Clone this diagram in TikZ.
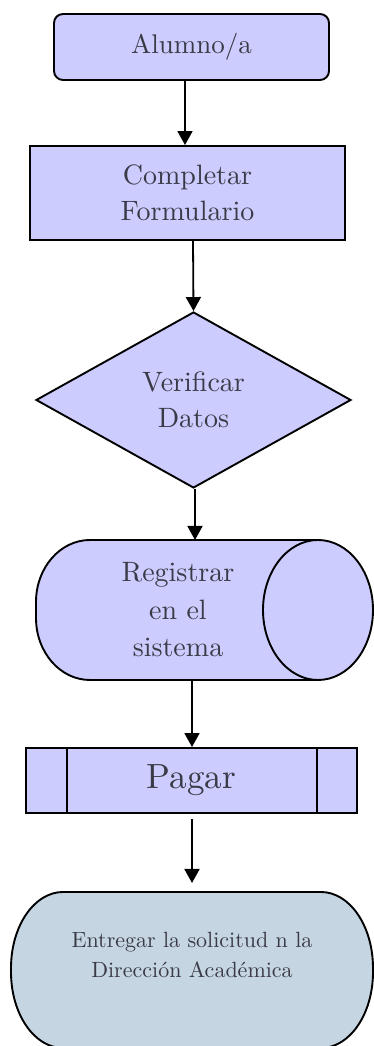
\documentclass[tikz,border=0pt]{standalone}
\usepackage{fontspec}
\setmainfont{lmroman10-regular}[Extension=.otf]
\usetikzlibrary{shapes.geometric,arrows.meta}
\definecolor{boxfill}{RGB}{204,204,255}
\definecolor{termfill}{RGB}{197,213,226}
\definecolor{txt}{RGB}{58,58,70}
\begin{document}
\begin{tikzpicture}[x=1pt,y=1pt,
 shapebox/.style={draw=black,line width=1.9pt,fill=boxfill,text=txt,align=center,inner sep=0pt},
 arr/.style={line width=1.8pt,-{Triangle[width=15pt,length=14pt]}},
 edge/.style={line width=1.9pt},
 bigtxt/.style={font=\fontsize{28}{36}\selectfont}]
\useasboundingbox (0,0) rectangle (374,1046);
\clip (0,0) rectangle (374,1046);

\node[shapebox,rounded corners=9pt,minimum width=275pt,minimum height=66pt,font=\fontsize{27}{34}\selectfont] (alumno) at (191.5,999) {Alumno/a};
\node[shapebox,bigtxt,minimum width=315pt,minimum height=94pt] (completar) at (187.5,853) {Completar\\Formulario};
\node[shapebox,bigtxt,diamond,minimum width=315pt,minimum height=176pt] (verificar) at (193.5,646) {Verificar\\Datos};

% cylinder
\path[draw=black,edge,fill=boxfill] (90,506) -- (318,506)
  arc[start angle=90,end angle=-90,x radius=55pt,y radius=70pt] -- (90,366)
  arc[start angle=270,end angle=180,x radius=54pt,y radius=62pt] -- (36,444)
  arc[start angle=180,end angle=90,x radius=54pt,y radius=62pt] -- cycle;
\draw[edge] (318,506) arc[start angle=90,end angle=270,x radius=55pt,y radius=70pt];
\node[text=txt,align=center,font=\fontsize{28}{37.5}\selectfont] (registrar) at (178,436) {Registrar\\en el\\sistema};
\coordinate (regtop) at (195,506);
\coordinate (regbot) at (192,366);

\node[shapebox,minimum width=331pt,minimum height=65pt,font=\fontsize{35}{42}\selectfont] (pagar) at (191.5,265.5) {Pagar};
\draw[edge] ([xshift=42pt]pagar.north west) -- ([xshift=42pt]pagar.south west);
\draw[edge] ([xshift=-41pt]pagar.north east) -- ([xshift=-41pt]pagar.south east);

% terminal
\path[draw=black,edge,fill=termfill] (63,154) -- (321,154)
  arc[start angle=90,end angle=0,x radius=52pt,y radius=76pt] -- (373,74)
  arc[start angle=0,end angle=-90,x radius=52pt,y radius=76pt] -- (63,-2)
  arc[start angle=270,end angle=180,x radius=52pt,y radius=76pt] -- (11,78)
  arc[start angle=180,end angle=90,x radius=52pt,y radius=76pt] -- cycle;
\coordinate (entregartop) at (192,158);
\node[text=txt,align=center,font=\fontsize{22}{30}\selectfont] (entregar) at (192,91) {Entregar la solicitud n la\\Dirección Académica};

\draw[arr] ([xshift=-6.5pt]alumno.south) -- ([xshift=-2.5pt]completar.north);
\draw[arr] ([xshift=5.5pt]completar.south) -- (verificar.north);
\draw[arr] ([xshift=1.5pt]verificar.south) -- (regtop);
\draw[arr] (regbot) -- ([xshift=0.5pt]pagar.north);
\draw[arr] ([xshift=0.5pt,yshift=-5pt]pagar.south) -- (entregartop |- 0,163);
\end{tikzpicture}
\end{document}
